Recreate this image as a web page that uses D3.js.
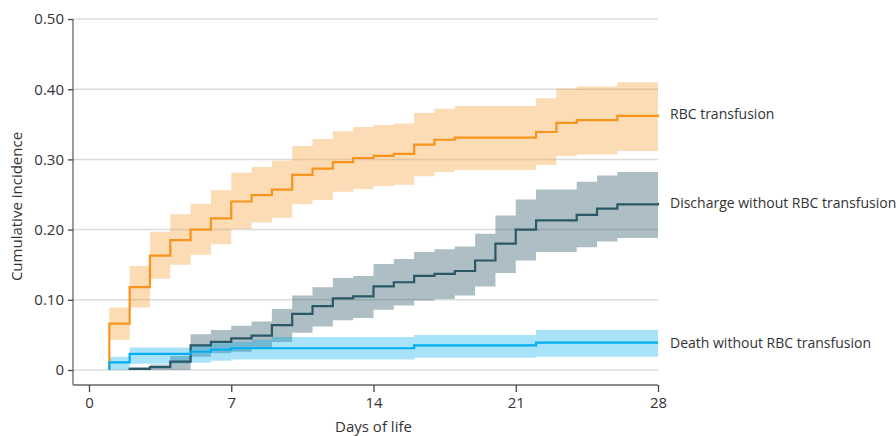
<!DOCTYPE html>
<html>
<head>
<meta charset="utf-8">
<script src="https://cdn.jsdelivr.net/npm/d3@7"></script>
<style>
  body { margin: 0; background: #fff; }
  svg text { font-family: "Open Sans", "Noto Sans", sans-serif; fill: #333; }
</style>
</head>
<body>
<div id="chart"></div>
<script>
// ---- data (cumulative incidence, value from that day on) ----
const days = [1, 2, 3, 4, 5, 6, 7, 8, 9, 10, 11, 12, 13, 14, 15, 16, 17, 18, 19, 20, 21, 22, 23, 24, 25, 26, 27, 28];

const rbcMid = [0.066, 0.118, 0.163, 0.185, 0.200, 0.216, 0.240, 0.249, 0.257, 0.278, 0.287, 0.296, 0.302, 0.305,
                0.308, 0.321, 0.328, 0.331, 0.331, 0.331, 0.331, 0.339, 0.352, 0.356, 0.356, 0.362, 0.362, 0.364];
const rbcHi  = [0.089, 0.148, 0.197, 0.222, 0.237, 0.256, 0.281, 0.289, 0.298, 0.319, 0.329, 0.340, 0.346, 0.349,
                0.351, 0.366, 0.372, 0.376, 0.376, 0.376, 0.376, 0.387, 0.401, 0.404, 0.404, 0.410, 0.410, 0.410];
const rbcLo  = [0.043, 0.089, 0.130, 0.150, 0.164, 0.179, 0.201, 0.210, 0.217, 0.236, 0.242, 0.254, 0.258, 0.262,
                0.264, 0.276, 0.282, 0.285, 0.285, 0.285, 0.285, 0.292, 0.305, 0.307, 0.307, 0.312, 0.312, 0.312];

const disMid = [null, 0.0015, 0.004, 0.012, 0.035, 0.040, 0.045, 0.049, 0.064, 0.080, 0.091, 0.102, 0.105, 0.119,
                0.125, 0.134, 0.137, 0.141, 0.156, 0.180, 0.200, 0.213, 0.213, 0.221, 0.230, 0.236, 0.236, 0.238];
const disHi  = [null, 0.004, 0.008, 0.020, 0.051, 0.057, 0.063, 0.069, 0.087, 0.106, 0.118, 0.131, 0.134, 0.151,
                0.158, 0.168, 0.172, 0.176, 0.194, 0.220, 0.243, 0.257, 0.257, 0.268, 0.277, 0.282, 0.282, 0.282];
const disLo  = [null, 0, 0, 0, 0.019, 0.024, 0.026, 0.031, 0.040, 0.053, 0.062, 0.071, 0.074, 0.086,
                0.092, 0.099, 0.101, 0.106, 0.119, 0.138, 0.156, 0.168, 0.168, 0.175, 0.183, 0.188, 0.188, 0.188];

const deathMid = [0.011, 0.023, 0.023, 0.023, 0.026, 0.029, 0.031, 0.031, 0.031, 0.031, 0.031, 0.031, 0.031, 0.031,
                  0.031, 0.035, 0.035, 0.035, 0.035, 0.035, 0.035, 0.039, 0.039, 0.039, 0.039, 0.039, 0.039, 0.039];
const deathHi  = [0.019, 0.032, 0.032, 0.032, 0.036, 0.038, 0.040, 0.043, 0.047, 0.047, 0.047, 0.047, 0.047, 0.047,
                  0.047, 0.050, 0.050, 0.050, 0.050, 0.050, 0.050, 0.057, 0.057, 0.057, 0.057, 0.057, 0.057, 0.057];
const deathLo  = [0, 0.009, 0.009, 0.009, 0.0105, 0.013, 0.015, 0.015, 0.015, 0.015, 0.015, 0.015, 0.015, 0.015,
                  0.015, 0.0176, 0.0176, 0.0176, 0.0176, 0.0176, 0.0176, 0.019, 0.019, 0.019, 0.019, 0.019, 0.019, 0.019];

const xTicks = [0, 7, 14, 21, 28];
const yTicks = [0, 0.1, 0.2, 0.3, 0.4, 0.5];

const series = [
  { name: 'RBC transfusion', mid: rbcMid, hi: rbcHi, lo: rbcLo, line: '#f7941d', band: '#f7941d', op: 0.33 },
  { name: 'Discharge without RBC transfusion', mid: disMid, hi: disHi, lo: disLo, line: '#2b5866', band: '#2b5866', op: 0.39 },
  { name: 'Death without RBC transfusion', mid: deathMid, hi: deathHi, lo: deathLo, line: '#00aeef', band: '#00aeef', op: 0.34 }
];

// ---- layout ----
const width = 896, height = 436;
const x = d3.scaleLinear().domain([0, 28]).range([89, 658]);
const y = d3.scaleLinear().domain([0, 0.5]).range([370, 19]);
const axisX = 73, axisY = 385;

const svg = d3.select('#chart').append('svg')
  .attr('width', width).attr('height', height);

// gridlines
svg.append('g').selectAll('line').data(yTicks).join('line')
  .attr('x1', axisX).attr('x2', x(28))
  .attr('y1', d => y(d)).attr('y2', d => y(d))
  .attr('stroke', '#dcdcdc').attr('stroke-width', 1.5);

// build rows for each series: leading zero point at start day, then step values
function rows(s) {
  const out = [];
  days.forEach((d, i) => {
    if (s.mid[i] == null) return;
    if (!out.length) out.push({ d, m: 0, h: null, l: null });
    out.push({ d, m: s.mid[i], h: s.hi[i], l: s.lo[i] });
  });
  return out;
}

const area = d3.area().curve(d3.curveStepAfter)
  .x(r => x(r.d)).y0(r => y(r.l)).y1(r => y(r.h));
const line = d3.line().curve(d3.curveStepAfter)
  .x(r => x(r.d)).y(r => y(r.m));

// bands
series.forEach(s => {
  const r = rows(s).filter(p => p.h != null);
  svg.append('path').datum(r)
    .attr('d', area)
    .attr('fill', s.band).attr('fill-opacity', s.op);
});

// lines
series.forEach(s => {
  svg.append('path').datum(rows(s))
    .attr('d', line)
    .attr('fill', 'none').attr('stroke', s.line).attr('stroke-width', 2.2);
});

// end labels
svg.append('g').selectAll('text').data(series).join('text')
  .attr('x', 670)
  .attr('y', s => y(s.mid[s.mid.length - 1]))
  .attr('dy', '0.35em')
  .attr('font-size', 14)
  .text(s => s.name);

// y axis
const yAxis = svg.append('g')
  .attr('transform', `translate(${axisX},0)`)
  .call(d3.axisLeft(y).tickValues(yTicks).tickSize(5).tickPadding(4)
    .tickFormat(d => d === 0 ? '0' : d3.format('.2f')(d)));
yAxis.select('.domain').attr('d', `M0,${y(0.5)}V${axisY}`).attr('stroke', '#666').attr('stroke-width', 1.3);
yAxis.selectAll('.tick line').attr('stroke', '#444').attr('stroke-width', 1.3);
yAxis.selectAll('.tick text').attr('font-size', 15).style('font-family', '"Open Sans", sans-serif').attr('fill', '#333');

// x axis
const xAxis = svg.append('g')
  .attr('transform', `translate(0,${axisY})`)
  .call(d3.axisBottom(x).tickValues(xTicks).tickSize(7).tickPadding(5));
xAxis.select('.domain').attr('d', `M${axisX},0H${x(28)}`).attr('stroke', '#666').attr('stroke-width', 1.3);
xAxis.selectAll('.tick line').attr('stroke', '#444').attr('stroke-width', 1.3);
xAxis.selectAll('.tick text').attr('font-size', 15).style('font-family', '"Open Sans", sans-serif').attr('fill', '#333');

// axis titles
svg.append('text')
  .attr('x', x(14)).attr('y', 432)
  .attr('text-anchor', 'middle').attr('font-size', 15)
  .text('Days of life');

svg.append('text')
  .attr('transform', `translate(22,${y(0.25) + 12}) rotate(-90)`)
  .attr('text-anchor', 'middle').attr('font-size', 15)
  .text('Cumulative incidence');
</script>
</body>
</html>
